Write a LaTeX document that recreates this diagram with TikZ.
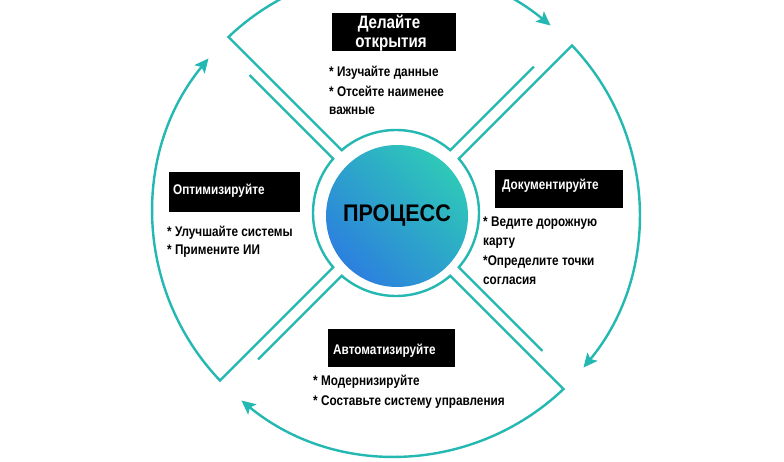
\documentclass[tikz,border=0pt]{standalone}
\usepackage{fontspec}
\newfontfamily\condfont{Liberation Sans}[FakeStretch=0.84]
\newfontfamily\procfont{Liberation Sans}[FakeStretch=0.9]
\usetikzlibrary{arrows.meta}
\definecolor{tealline}{RGB}{36,184,178}
\definecolor{circteal}{RGB}{46,200,184}
\definecolor{circblue}{RGB}{44,128,222}
\tikzset{
  seg/.style={draw=tealline, line width=2.4pt, line join=miter,
    -{Stealth[length=14pt,width=13pt,inset=3pt]}},
  blackbox/.style={rectangle, fill=black, inner sep=0pt},
  headtxt/.style={anchor=base west, inner sep=0pt, text=white,
    font=\condfont\bfseries\fontsize{14}{17}\selectfont},
  bodytxt/.style={anchor=base west, inner sep=0pt, text=black,
    font=\condfont\bfseries\fontsize{14}{17}\selectfont},
}
\begin{document}
\begin{tikzpicture}[x=1pt,y=1pt]
\useasboundingbox[fill=white] (0,0) rectangle (784,461);
\coordinate (C) at (396,248);
% segments with arrows
\begin{scope}[shift={(C)}]
\foreach \a/\b in {135/45, 45/-45, -45/-135, -135/-225}{
  \draw[seg] (\b+1.71:201.1) -- (\b+4.15:83)
     arc[start angle=\b+4.15, end angle=\a-4.15, radius=83]
     -- (\a-1.41:243)
     arc[start angle=\a-1.41, end angle=\b+5.5, radius=243];
}
\end{scope}
% central circle
\node[circle, minimum size=142pt, inner sep=0pt, top color=circteal,
  bottom color=circblue, shading angle=-45,
  font=\procfont\bfseries\fontsize{24}{28}\selectfont] (proc) at (397,245) {ПРОЦЕСС};
% top
\node[blackbox, minimum width=124pt, minimum height=38pt] (box1) at (394,429) {};
\node[anchor=base, inner sep=0pt, text=white,
  font=\condfont\bfseries\fontsize{18}{21}\selectfont] (h1a) at (389,432.5) {Делайте};
\node[anchor=base, inner sep=0pt, text=white,
  font=\condfont\bfseries\fontsize{18}{21}\selectfont] (h1b) at (391,413.5) {открытия};
\node[bodytxt] (t1a) at (329,384) {* Изучайте данные};
\node[bodytxt] (t1b) at (329,364) {* Отсейте наименее};
\node[bodytxt] (t1c) at (329,346) {важные};
% right
\node[blackbox, minimum width=128pt, minimum height=38pt] (box2) at (559,272) {};
\node[headtxt] (h2) at (502,271) {Документируйте};
\node[bodytxt] (t2a) at (483,234) {* Ведите дорожную};
\node[bodytxt] (t2b) at (483,215) {карту};
\node[bodytxt] (t2c) at (483,196) {*Определите точки};
\node[bodytxt] (t2d) at (483,177) {согласия};
% left
\node[blackbox, minimum width=131pt, minimum height=40pt] (box3) at (234.5,269) {};
\node[headtxt] (h3) at (173,266) {Оптимизируйте};
\node[bodytxt] (t3a) at (167,224) {* Улучшайте системы};
\node[bodytxt] (t3b) at (167,206) {* Примените ИИ};
% bottom
\node[blackbox, minimum width=127pt, minimum height=38pt] (box4) at (391.5,113) {};
\node[headtxt] (h4) at (333,107) {Автоматизируйте};
\node[bodytxt] (t4a) at (313,76) {* Модернизируйте};
\node[bodytxt] (t4b) at (313,56) {* Составьте систему управления};
\end{tikzpicture}
\end{document}
